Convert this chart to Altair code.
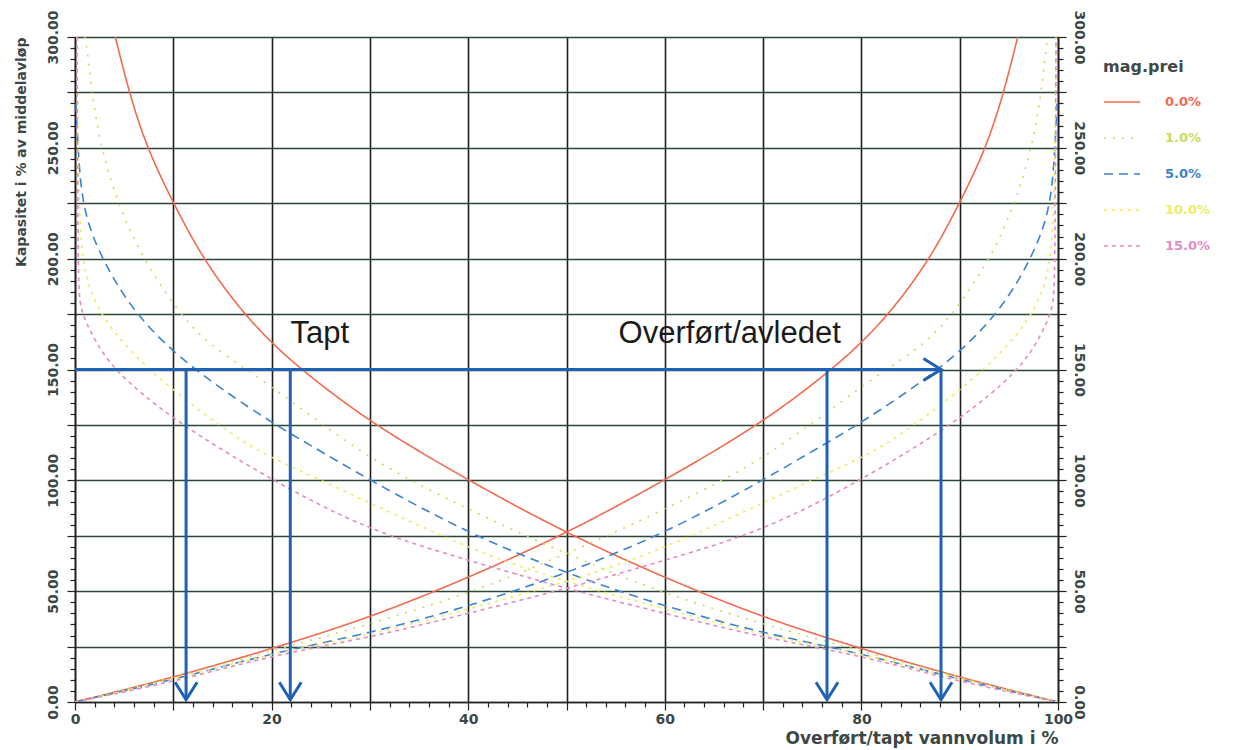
import altair as alt
import pandas as pd

# ---------------- data ----------------
series = ["0.0%", "1.0%", "5.0%", "10.0%", "15.0%"]
series_colors = ["#f26a4f", "#c8dc5c", "#3a83d1", "#efeb62", "#e48ac6"]
series_dash = [[1, 0], [2, 7], [9, 6], [3, 5], [4, 4]]

# rising (overført) branch of each curve: x = overført vannvolum %, y = kapasitet %
x_00 = [0, 10, 20, 30, 40, 50, 60, 70, 77, 80, 83.2, 87, 90, 92.7, 94.5, 95.9]
y_00 = [0, 11, 24, 38, 56, 76, 100, 126, 150, 162, 177, 200, 225, 250, 275, 300]

x_01 = [0, 10, 20, 30, 41.5, 50, 54.7, 58.5, 64.2, 70, 75.4, 80.5, 86, 88.3, 90.6, 93.6, 95.9, 97.5, 98.3, 98.8, 99.0]
y_01 = [0, 11, 23, 35, 51, 67, 76, 84, 96, 110, 127, 144, 160, 170, 183, 204, 228, 253, 275, 296, 300]

x_05 = [0, 10, 20, 30, 40, 50, 60, 70, 76.5, 80, 88.1, 94.1, 97.9, 99.3, 99.7, 99.9]
y_05 = [0, 10, 22, 31, 43, 58, 76, 100, 117, 126, 150, 175, 205, 225, 250, 270]

x_10 = [0, 10, 20, 30, 40, 50, 60, 70, 80, 83.2, 90, 95.6, 98.5, 99.5, 99.7, 99.8]
y_10 = [0, 10, 22, 30, 42, 54, 69, 90, 110, 118, 140, 163, 183, 205, 250, 300]

x_15 = [0, 10, 20, 30, 40, 50, 60, 70, 80, 90, 96.2, 98.2, 99.5, 99.7, 99.8]
y_15 = [0, 9, 21, 29, 40, 51, 64, 77, 100, 127, 150, 165, 177, 190, 300]

arrow_level = 150
arrow_start_x = 0
arrow_x = [11.3, 21.9, 76.5, 88.1]
arrow_tip_y = 1

label_text = ["Tapt", "Overført/avledet"]
label_x = [24.9, 66.6]
label_y = [166, 166]

x_ticks = list(range(0, 101, 2))
y_ticks = list(range(0, 301, 5))

# ---------------- tables ----------------
rows = []
for s, xs_, ys_ in zip(series, [x_00, x_01, x_05, x_10, x_15], [y_00, y_01, y_05, y_10, y_15]):
    for xv, yv in zip(xs_, ys_):
        rows.append({"serie": s, "gren": "overført", "x": xv, "y": yv})
        rows.append({"serie": s, "gren": "tapt", "x": 100 - xv, "y": yv})
curve_df = pd.DataFrame(rows)

h_df = pd.DataFrame({"x": [arrow_start_x], "x2": [arrow_x[-1]], "y": [arrow_level]})
v_df = pd.DataFrame({"x": arrow_x, "y": [arrow_level] * len(arrow_x), "y2": [arrow_tip_y] * len(arrow_x)})
head_df = pd.DataFrame({
    "x": arrow_x + [arrow_x[-1]],
    "y": [arrow_tip_y] * len(arrow_x) + [arrow_level],
    "retning": ["ned"] * len(arrow_x) + ["høyre"],
})
lbl_df = pd.DataFrame({"tekst": label_text, "x": label_x, "y": label_y})

# ---------------- styling ----------------
blue = "#1f62b4"
axis_col = "#3b4845"
afont = "DejaVu Sans"

xs = alt.Scale(domain=[0, 100], nice=False, zero=False)
ys = alt.Scale(domain=[0, 300], nice=False, zero=False)

x_axis = alt.Axis(
    values=x_ticks,
    title="Overført/tapt vannvolum i %",
    titleAnchor="end", titleFont=afont, titleFontSize=17, titleFontWeight="bold",
    titleColor=axis_col, titlePadding=4,
    labelExpr="datum.value % 20 == 0 ? datum.label : ''",
    labelFont=afont, labelFontSize=14, labelFontWeight="bold", labelColor=axis_col,
    labelPadding=2, labelOverlap=False, labelFlush=False,
    grid=True, gridColor="#1e1e1e", gridWidth=1.6,
    gridOpacity={"condition": {"test": "datum.value % 10 == 0", "value": 1}, "value": 0},
    tickSize={"condition": {"test": "datum.value % 10 == 0", "value": 8}, "value": 5},
    tickColor="#222", tickWidth=1.2, domainColor="#222", domainWidth=1.6,
)

y_left = alt.Axis(
    values=y_ticks,
    title="Kapasitet i % av middelavløp",
    titleAnchor="end", titleFont=afont, titleFontSize=14, titleFontWeight="bold",
    titleColor=axis_col, titlePadding=18,
    labelExpr="datum.value % 50 == 0 ? format(datum.value, '.2f') : ''",
    labelAngle=270, labelAlign="center", labelBaseline="bottom",
    labelFont=afont, labelFontSize=14, labelFontWeight="bold", labelColor=axis_col,
    labelPadding=7, labelOverlap=False, labelFlush=False,
    grid=True, gridColor="#2c4638", gridWidth=1.6,
    gridOpacity={"condition": {"test": "datum.value % 25 == 0", "value": 1}, "value": 0},
    tickSize={"condition": {"test": "datum.value % 25 == 0", "value": 8}, "value": 5},
    tickColor="#222", tickWidth=1.2, domainColor="#222", domainWidth=1.6,
)

y_right = alt.Axis(
    orient="right", values=y_ticks, title=None,
    labelExpr="datum.value % 50 == 0 ? format(datum.value, '.2f') : ''",
    labelAngle=90, labelAlign="center", labelBaseline="bottom",
    labelFont=afont, labelFontSize=14, labelFontWeight="bold", labelColor=axis_col,
    labelPadding=5, labelOverlap=False, labelFlush=False,
    grid=False,
    tickSize={"condition": {"test": "datum.value % 25 == 0", "value": 8}, "value": 5},
    tickColor="#222", tickWidth=1.2, domainColor="#222", domainWidth=1.6,
)

color_list = "[" + ",".join("'%s'" % c for c in series_colors) + "]"
name_list = "[" + ",".join("'%s'" % s for s in series) + "]"
label_color_expr = "%s[indexof(%s, datum.label)]" % (color_list, name_list)

leg = alt.Legend(
    title="mag.prei", orient="none", legendX=1028, legendY=22,
    symbolType="stroke", symbolSize=1300, symbolStrokeWidth=1.6,
    labelOffset=24, rowPadding=10, titlePadding=8,
    titleFont=afont, titleFontSize=16, titleFontWeight="bold", titleColor="#3f4a48",
    labelFont=afont, labelFontSize=13, labelFontWeight="bold",
    labelColor={"expr": label_color_expr},
)

curves = alt.Chart(curve_df).mark_line(strokeWidth=1.6, interpolate="basis", clip=True).encode(
    x=alt.X("x:Q", scale=xs, axis=x_axis),
    y=alt.Y("y:Q", scale=ys, axis=y_left),
    color=alt.Color("serie:N", scale=alt.Scale(domain=series, range=series_colors), legend=leg),
    strokeDash=alt.StrokeDash("serie:N", scale=alt.Scale(domain=series, range=series_dash), legend=leg),
    detail="gren:N",
)

harrow = alt.Chart(h_df).mark_rule(color=blue, strokeWidth=3).encode(
    x=alt.X("x:Q", scale=xs, axis=x_axis),
    x2="x2:Q",
    y=alt.Y("y:Q", scale=ys, axis=y_right),
)

varrows = alt.Chart(v_df).mark_rule(color=blue, strokeWidth=3).encode(
    x=alt.X("x:Q", scale=xs, axis=x_axis),
    y=alt.Y("y:Q", scale=ys, axis=None),
    y2="y2:Q",
)

down_path = "M-1,-1.6L0,0L1,-1.6"
right_path = "M-1.6,-1L0,0L-1.6,1"
heads = alt.Chart(head_df).mark_point(filled=False, strokeWidth=3, size=484, opacity=1, color=blue).encode(
    x=alt.X("x:Q", scale=xs, axis=x_axis),
    y=alt.Y("y:Q", scale=ys, axis=None),
    shape=alt.Shape("retning:N", scale=alt.Scale(domain=["ned", "høyre"], range=[down_path, right_path]), legend=None),
)

labels = alt.Chart(lbl_df).mark_text(font="Liberation Sans", fontSize=31, color="#1b1b1b").encode(
    x=alt.X("x:Q", scale=xs, axis=x_axis),
    y=alt.Y("y:Q", scale=ys, axis=None),
    text="tekst:N",
)

chart = (
    alt.layer(curves, harrow, varrows, heads, labels)
    .resolve_axis(y="independent")
    .properties(
        width=983, height=665,
        padding={"left": 67, "top": 29, "right": 169, "bottom": 48},
        autosize=alt.AutoSizeParams(type="none"),
        background="white",
    )
    .configure_view(stroke=None)
)

chart.save("out.html", embed_options={"renderer": "svg", "actions": False})
